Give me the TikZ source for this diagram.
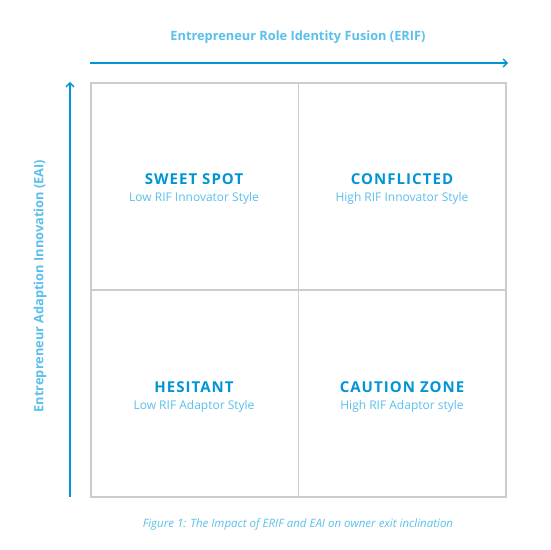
\documentclass[tikz,border=0pt]{standalone}
\usepackage{fontspec}
\setmainfont{Open Sans}
\usetikzlibrary{arrows.meta}
\definecolor{dblue}{HTML}{0095D5}
\definecolor{lblue}{HTML}{5BC0EB}
\definecolor{gridgrey}{HTML}{CCCCCC}
\begin{document}
\begin{tikzpicture}[x=1pt,y=1pt,
  axis/.style={draw=dblue,line width=1.6pt,-{Straight Barb[length=4pt,width=8pt,line width=1.4pt]}},
  quad/.style={draw=gridgrey,line width=1.5pt},
  head/.style={text=dblue,font=\fontsize{15}{17}\selectfont\bfseries\addfontfeatures{LetterSpace=7}},
  sub/.style={text=lblue,font=\fontsize{12}{14}\selectfont},
  lab/.style={text=lblue,font=\fontsize{12.8}{15}\selectfont\bfseries}]
\useasboundingbox[fill=white] (0,0) rectangle (550,550);
\coordinate (hx0) at (90,487);
\coordinate (hx1) at (508,487);
\coordinate (vy0) at (70,53);
\coordinate (vy1) at (70,468);
\draw[axis] (hx0) -- (hx1);
\draw[axis] (vy0) -- (vy1);
\node[lab] (xlab) at (298,513) {Entrepreneur Role Identity Fusion (ERIF)};
\node[lab,rotate=90] (ylab) at (40,264) {Entrepreneur Adaption Innovation (EAI)};
\node[quad,minimum width=415,minimum height=414,inner sep=0pt] (box) at (298.5,260) {};
\draw[quad] (box.north) -- (box.south);
\draw[quad] (box.west) -- (box.east);
\node[head] (h1) at (194,371) {SWEET SPOT};
\node[sub] (s1) at (194,352) {Low RIF Innovator Style};
\node[head] (h2) at (402,371) {CONFLICTED};
\node[sub] (s2) at (402,352) {High RIF Innovator Style};
\node[head] (h3) at (194,163) {HESITANT};
\node[sub] (s3) at (194,144) {Low RIF Adaptor Style};
\node[head] (h4) at (402,163) {CAUTION ZONE};
\node[sub] (s4) at (402,144) {High RIF Adaptor style};
\node[text=lblue,font=\fontsize{11.5}{13}\selectfont\itshape] (cap) at (298,26) {Figure 1: The Impact of ERIF and EAI on owner exit inclination};
\end{tikzpicture}
\end{document}
